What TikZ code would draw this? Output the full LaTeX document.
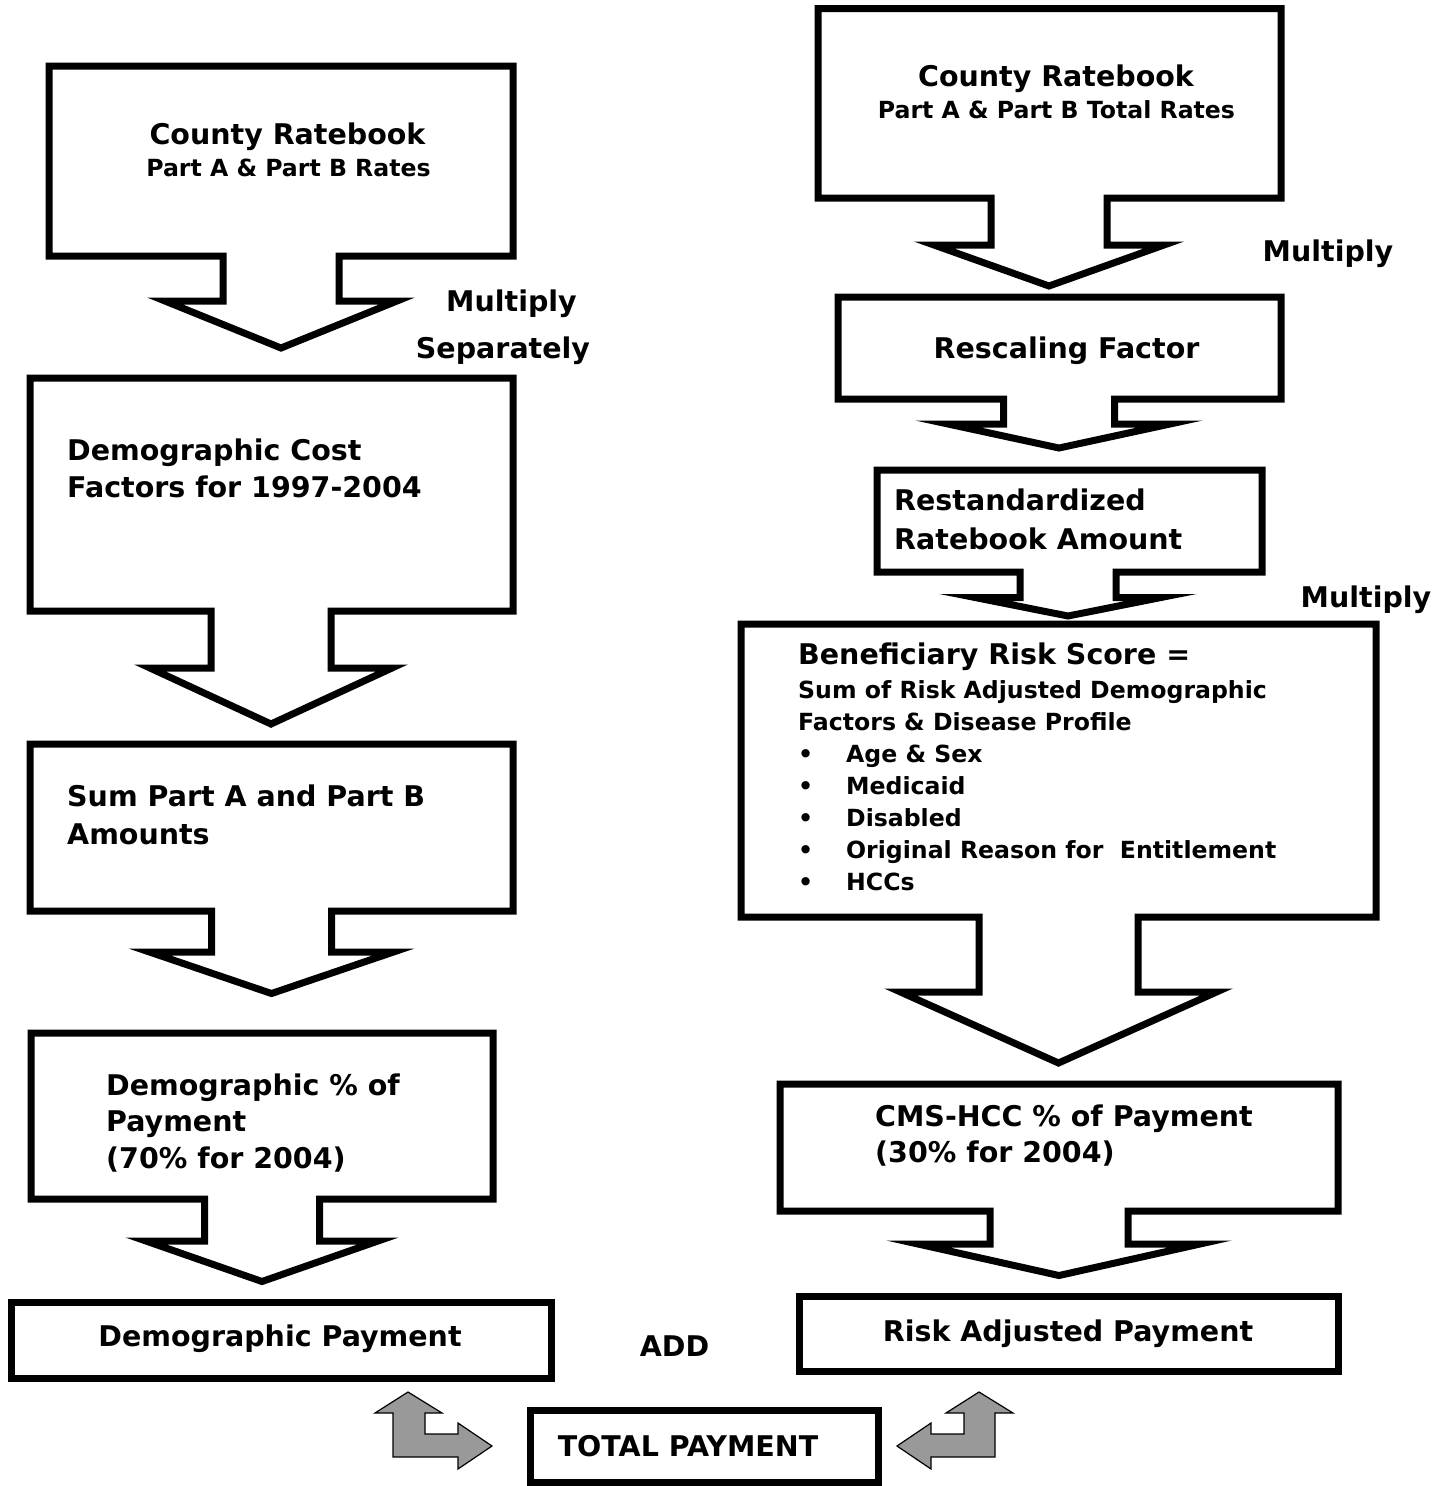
\documentclass[tikz,border=0pt]{standalone}
\usepackage{fontspec}
\setmainfont{DejaVu Sans}

% box with a downward arrow stem:
% #1 left, #2 top, #3 right, #4 bottom, #5 arrow axis x, #6 stem half width,
% #7 shoulder y, #8 head half width, #9 tip y
\newcommand{\calloutbox}[9]{%
  \draw[boxline] (#1,#2) -- (#3,#2) -- (#3,#4) -- ({#5+#6},#4) -- ({#5+#6},#7)
    -- ({#5+#8},#7) -- (#5,#9) -- ({#5-#8},#7) -- ({#5-#6},#7) -- ({#5-#6},#4)
    -- (#1,#4) -- cycle;}
\newcommand{\stackl}[1]{\begin{tabular}[t]{@{}l@{}}#1\end{tabular}}

\begin{document}
\begin{tikzpicture}[x=1pt,y=-1pt,line join=miter,miter limit=20,
  boxline/.style={draw=black,line width=7pt,fill=white},
  bigtxt/.style={inner sep=0pt,font=\fontsize{28.5}{37.5}\selectfont\bfseries},
  smalltxt/.style={inner sep=0pt,font=\fontsize{23.6}{32.1}\selectfont\bfseries},
  bendarrow/.style={draw=black,line width=1.2pt,fill=black!40}]

\fill[white] (0,0) rectangle (1445,1486);
\useasboundingbox (0,0) rectangle (1445,1486);

% ---------- left column ----------
\calloutbox{49}{66}{513}{256}{281}{58}{301}{116}{348}
\calloutbox{30}{378}{513}{611}{271}{60}{668}{121}{724}
\calloutbox{30}{744}{513}{911}{271.5}{60}{952}{122}{993.5}
\calloutbox{31}{1033}{493}{1199}{262}{57.5}{1241}{116}{1281.5}
\draw[boxline] (11,1302) rectangle (551,1378);

\node[bigtxt,anchor=base] (lcounty) at (287.5,144) {County Ratebook};
\node[smalltxt,anchor=base] (lrates) at (288.5,176.5) {Part A \& Part B Rates};
\node[bigtxt,anchor=base] (lmult) at (511.5,311.5) {Multiply};
\node[bigtxt,anchor=base] (lsep) at (503,358) {Separately};
\node[bigtxt,anchor=base west,font=\fontsize{28.5}{37.3}\selectfont\bfseries] (demcost) at (67,460)
  {\stackl{Demographic Cost\\Factors for 1997-2004}};
\node[bigtxt,anchor=base west,font=\fontsize{28.5}{38}\selectfont\bfseries] (sumab) at (67,806)
  {\stackl{Sum Part A and Part B\\Amounts}};
\node[bigtxt,anchor=base west,font=\fontsize{28.5}{36.5}\selectfont\bfseries] (dempct) at (106,1095)
  {\stackl{Demographic \% of\\Payment\\(70\% for 2004)}};
\node[bigtxt,anchor=base] (dempay) at (280,1346.5) {Demographic Payment};

% ---------- right column ----------
\calloutbox{818}{8.5}{1281}{198}{1049}{58}{245}{115}{286}
\calloutbox{838}{297}{1281}{399}{1059}{55.5}{424}{111}{448}
\calloutbox{877}{470}{1262}{572}{1068}{48}{597.5}{93}{616}
\calloutbox{741}{624}{1376}{917}{1058.5}{79.5}{992}{158}{1063}
\calloutbox{780}{1084}{1338}{1211}{1059}{69}{1244}{141}{1275.5}
\draw[boxline] (799,1296) rectangle (1338,1371);

\node[bigtxt,anchor=base] (rcounty) at (1056,86) {County Ratebook};
\node[smalltxt,anchor=base] (rrates) at (1056.5,118.3) {Part A \& Part B Total Rates};
\node[bigtxt,anchor=base] (rmult) at (1328,261.5) {Multiply};
\node[bigtxt,anchor=base] (rescale) at (1066.5,358.3) {Rescaling Factor};
\node[bigtxt,anchor=base west,font=\fontsize{28.5}{38.6}\selectfont\bfseries] (restd) at (894,510.7)
  {\stackl{Restandardized\\Ratebook Amount}};
\node[bigtxt,anchor=base] (rmult2) at (1366,607.5) {Multiply};
\node[bigtxt,anchor=base west] (benef) at (798,664.5) {Beneficiary Risk Score =};
\node[smalltxt,anchor=base west] (benlist) at (798,698.3)
  {\stackl{Sum of Risk Adjusted Demographic\\
   Factors \& Disease Profile\\
   \makebox[48pt][l]{•}Age \& Sex\\
   \makebox[48pt][l]{•}Medicaid\\
   \makebox[48pt][l]{•}Disabled\\
   \makebox[48pt][l]{•}Original Reason for~ Entitlement\\
   \makebox[48pt][l]{•}HCCs}};
\node[bigtxt,anchor=base west,font=\fontsize{28.5}{35.3}\selectfont\bfseries] (cmshcc) at (875,1126.7)
  {\stackl{CMS-HCC \% of Payment\\(30\% for 2004)}};
\node[bigtxt,anchor=base] (riskpay) at (1068,1341.7) {Risk Adjusted Payment};

% ---------- total ----------
\node[bigtxt,anchor=base] (addlbl) at (674.5,1356) {ADD};
\draw[boxline] (530,1410) rectangle (878,1482);
\node[bigtxt,anchor=base] (total) at (688,1456.5) {TOTAL PAYMENT};

% bent arrows joining the two payments to the total
\draw[bendarrow] (393,1413) -- (375,1413) -- (408,1392) -- (442,1413) -- (425,1413)
  -- (425,1434) -- (458,1434) -- (458,1423) -- (492,1446) -- (458,1469)
  -- (458,1457) -- (393,1457) -- cycle;
\draw[bendarrow] (964,1413) -- (946,1413) -- (979,1392) -- (1013,1413) -- (995,1413)
  -- (995,1457) -- (931,1457) -- (931,1469) -- (897,1446) -- (931,1423)
  -- (931,1434) -- (964,1434) -- cycle;
\end{tikzpicture}
\end{document}
